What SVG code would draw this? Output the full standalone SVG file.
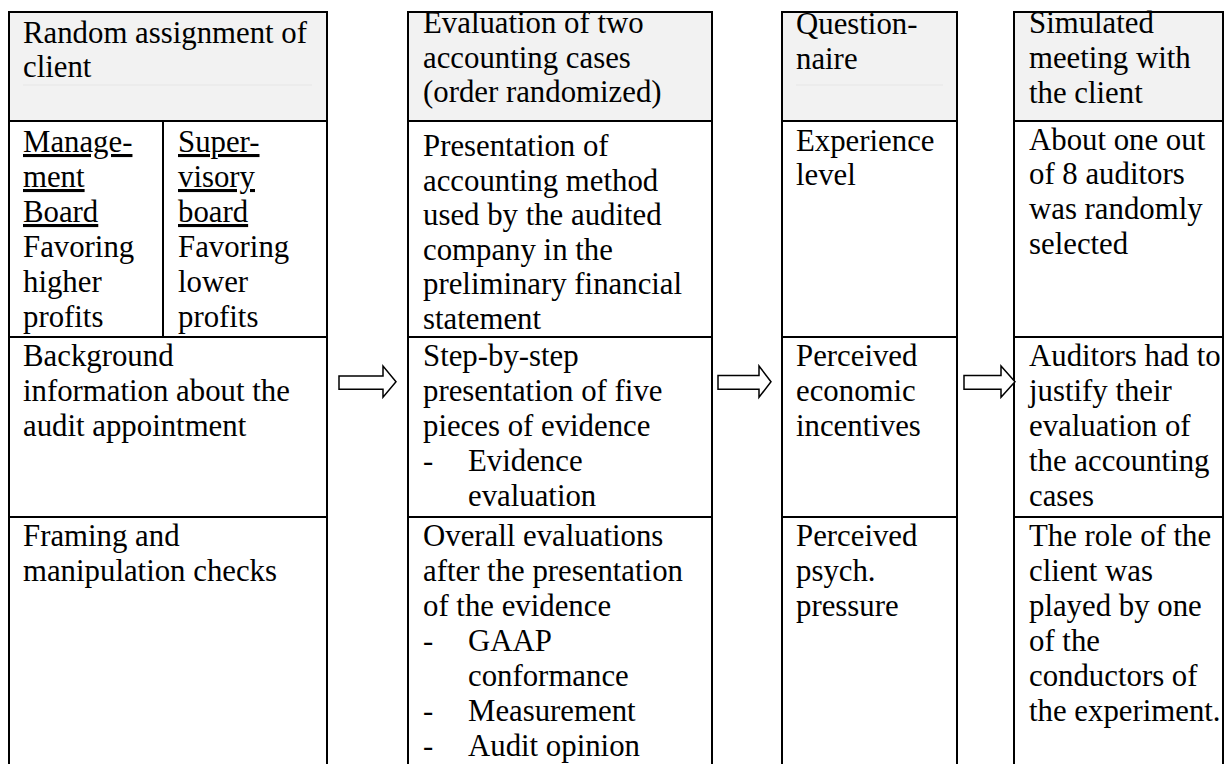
<svg xmlns="http://www.w3.org/2000/svg" width="1224" height="764" viewBox="0 0 1224 764">
<style>
.cell{fill:#fff;stroke:#000;stroke-width:2}
.head{fill:#f2f2f2;stroke:#000;stroke-width:2}
.div{stroke:#000;stroke-width:2}
.t{font-family:"Liberation Serif","Times New Roman",serif;font-size:30.8px;fill:#000}
.u{text-decoration:underline}
.arrow{fill:#fff;stroke:#000;stroke-width:1.5;stroke-linejoin:miter}
.faint{stroke:#e6e6e6;stroke-width:1}
</style>
<rect width="1224" height="764" fill="#fff"/>

<g id="col1">
  <g id="c1-head">
    <rect class="head" x="9" y="12" width="318" height="109"/>
    <line class="faint" x1="23" y1="85" x2="312" y2="85"/>
    <text class="t" x="23" y="42.5">Random assignment of</text>
    <text class="t" x="23" y="77">client</text>
  </g>
  <g id="c1-r1">
    <rect class="cell" x="9" y="121" width="318" height="216"/>
    <line class="div" x1="163" y1="121" x2="163" y2="337"/>
    <text class="t u" x="23" y="152">Manage-</text>
    <text class="t u" x="23" y="187">ment</text>
    <text class="t u" x="23" y="222">Board</text>
    <text class="t" x="23" y="257">Favoring</text>
    <text class="t" x="23" y="292">higher</text>
    <text class="t" x="23" y="327">profits</text>
    <text class="t u" x="178" y="152">Super-</text>
    <text class="t u" x="178" y="187">visory</text>
    <text class="t u" x="178" y="222">board</text>
    <text class="t" x="178" y="257">Favoring</text>
    <text class="t" x="178" y="292">lower</text>
    <text class="t" x="178" y="327">profits</text>
  </g>
  <g id="c1-r2">
    <rect class="cell" x="9" y="337" width="318" height="180"/>
    <text class="t" x="23" y="365.5">Background</text>
    <text class="t" x="23" y="400.5">information about the</text>
    <text class="t" x="23" y="435.5">audit appointment</text>
  </g>
  <g id="c1-r3">
    <rect class="cell" x="9" y="517" width="318" height="260"/>
    <text class="t" x="23" y="545.5">Framing and</text>
    <text class="t" x="23" y="580.5">manipulation checks</text>
  </g>
</g>

<g id="col2">
  <g id="c2-head">
    <rect class="head" x="408" y="12" width="304" height="109"/>
    <text class="t" x="423" y="33">Evaluation of two</text>
    <text class="t" x="423" y="67.7">accounting cases</text>
    <text class="t" x="423" y="102.4">(order randomized)</text>
  </g>
  <g id="c2-r1">
    <rect class="cell" x="408" y="121" width="304" height="216"/>
    <text class="t" x="423" y="156">Presentation of</text>
    <text class="t" x="423" y="190.6">accounting method</text>
    <text class="t" x="423" y="225.2">used by the audited</text>
    <text class="t" x="423" y="259.8">company in the</text>
    <text class="t" x="423" y="294.4">preliminary financial</text>
    <text class="t" x="423" y="329">statement</text>
  </g>
  <g id="c2-r2">
    <rect class="cell" x="408" y="337" width="304" height="180"/>
    <text class="t" x="423" y="365.5">Step-by-step</text>
    <text class="t" x="423" y="400.5">presentation of five</text>
    <text class="t" x="423" y="435.5">pieces of evidence</text>
    <text class="t" x="423" y="470.5">-</text>
    <text class="t" x="468" y="470.5">Evidence</text>
    <text class="t" x="468" y="505.5">evaluation</text>
  </g>
  <g id="c2-r3">
    <rect class="cell" x="408" y="517" width="304" height="260"/>
    <text class="t" x="423" y="546">Overall evaluations</text>
    <text class="t" x="423" y="581">after the presentation</text>
    <text class="t" x="423" y="616">of the evidence</text>
    <text class="t" x="423" y="651">-</text>
    <text class="t" x="468" y="651">GAAP</text>
    <text class="t" x="468" y="686">conformance</text>
    <text class="t" x="423" y="721">-</text>
    <text class="t" x="468" y="721">Measurement</text>
    <text class="t" x="423" y="756">-</text>
    <text class="t" x="468" y="756">Audit opinion</text>
  </g>
</g>

<g id="col3">
  <g id="c3-head">
    <rect class="head" x="782" y="12" width="175" height="109"/>
    <line class="faint" x1="796" y1="85" x2="943" y2="85"/>
    <text class="t" x="796" y="34">Question-</text>
    <text class="t" x="796" y="68.7">naire</text>
  </g>
  <g id="c3-r1">
    <rect class="cell" x="782" y="121" width="175" height="216"/>
    <text class="t" x="796" y="150.5">Experience</text>
    <text class="t" x="796" y="185.2">level</text>
  </g>
  <g id="c3-r2">
    <rect class="cell" x="782" y="337" width="175" height="180"/>
    <text class="t" x="796" y="365.5">Perceived</text>
    <text class="t" x="796" y="400.5">economic</text>
    <text class="t" x="796" y="435.5">incentives</text>
  </g>
  <g id="c3-r3">
    <rect class="cell" x="782" y="517" width="175" height="260"/>
    <text class="t" x="796" y="546">Perceived</text>
    <text class="t" x="796" y="581">psych.</text>
    <text class="t" x="796" y="616">pressure</text>
  </g>
</g>

<g id="col4">
  <g id="c4-head">
    <rect class="head" x="1014" y="12" width="209" height="109"/>
    <text class="t" x="1029" y="33.3">Simulated</text>
    <text class="t" x="1029" y="68">meeting with</text>
    <text class="t" x="1029" y="102.7">the client</text>
  </g>
  <g id="c4-r1">
    <rect class="cell" x="1014" y="121" width="209" height="216"/>
    <text class="t" x="1029" y="149.5">About one out</text>
    <text class="t" x="1029" y="184.2">of 8 auditors</text>
    <text class="t" x="1029" y="218.9">was randomly</text>
    <text class="t" x="1029" y="253.6">selected</text>
  </g>
  <g id="c4-r2">
    <rect class="cell" x="1014" y="337" width="209" height="180"/>
    <text class="t" x="1029" y="365.5">Auditors had to</text>
    <text class="t" x="1029" y="400.5">justify their</text>
    <text class="t" x="1029" y="435.5">evaluation of</text>
    <text class="t" x="1029" y="470.5">the accounting</text>
    <text class="t" x="1029" y="505.5">cases</text>
  </g>
  <g id="c4-r3">
    <rect class="cell" x="1014" y="517" width="209" height="260"/>
    <text class="t" x="1029" y="546">The role of the</text>
    <text class="t" x="1029" y="581">client was</text>
    <text class="t" x="1029" y="616">played by one</text>
    <text class="t" x="1029" y="651">of the</text>
    <text class="t" x="1029" y="686">conductors of</text>
    <text class="t" x="1029" y="721">the experiment.</text>
  </g>
</g>

<g id="connectors">
  <path class="arrow" d="M339,376 H383 V366 L396,381.7 L383,397.3 V389.3 H339 Z"/>
  <path class="arrow" d="M718,375.5 H759 V366 L771,381.7 L759,397.3 V389.3 H718 Z"/>
  <path class="arrow" d="M964,375.5 H1001 V366 L1015,381.7 L1001,397.3 V389.3 H964 Z"/>
</g>
</svg>
